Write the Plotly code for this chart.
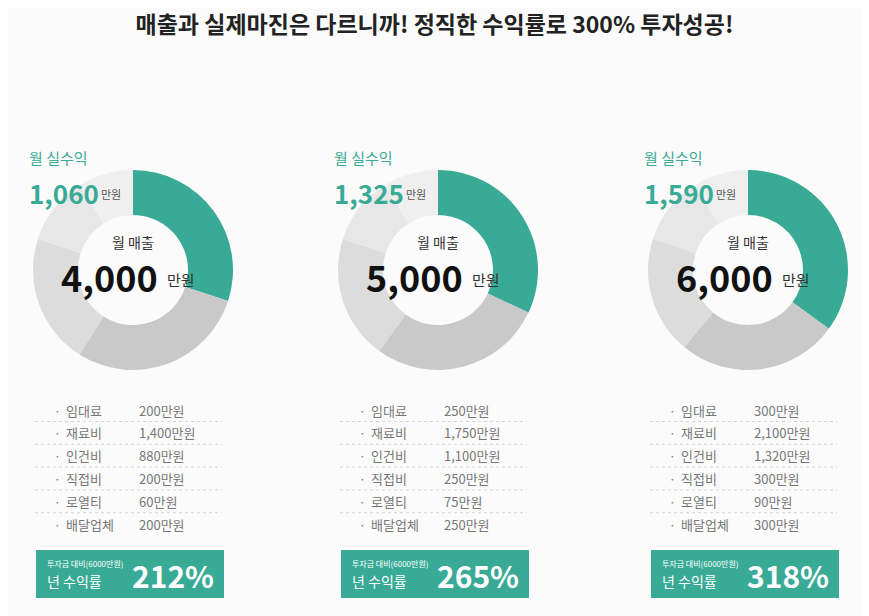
import plotly.graph_objects as go

W, H = 869, 616

revenue = ["4,000", "5,000", "6,000"]
net_profit = ["1,060", "1,325", "1,590"]
annual_return = ["212%", "265%", "318%"]
cost_items = ["임대료", "재료비", "인건비", "직접비", "로열티", "배달업체"]
cost_values = [
    ["200만원", "1,400만원", "880만원", "200만원", "60만원", "200만원"],
    ["250만원", "1,750만원", "1,100만원", "250만원", "75만원", "250만원"],
    ["300만원", "2,100만원", "1,320만원", "300만원", "90만원", "300만원"],
]
# slice shares read from the donuts (profit first, then grey parts)
slice_shares = [
    [30, 29, 21, 11, 9],
    [32, 28, 20, 11, 9],
    [35, 26, 19, 11, 9],
]
slice_colors = ["#38aa95", "#c9c9c9", "#dcdcdc", "#e7e7e7", "#efefef"]

GREEN = "#38aa95"
FONT = "Noto Sans CJK KR"
SHIFT = 8  # page puts the figure 8px in from the corner


def px(x):
    return (x - SHIFT) / W


def py(y):
    return 1 - (y - SHIFT) / H


fig = go.Figure()
annotations = []
shapes = []


def text(x, y, s, size, color, anchor="left", bold=False):
    annotations.append(dict(
        x=px(x), y=py(y), xref="paper", yref="paper", text=f"<b>{s}</b>" if bold else s,
        showarrow=False, xanchor=anchor, yanchor="middle",
        font=dict(family=FONT, size=size, color=color)))


offsets = [0, 305, 615]
centers = [133, 438, 748]
R = 100
for i in range(3):
    cx, cy, dx = centers[i], 270, offsets[i]
    fig.add_trace(go.Pie(
        values=slice_shares[i], marker=dict(colors=slice_colors), hole=0.55,
        sort=False, direction="clockwise", rotation=0, textinfo="none",
        hoverinfo="skip", showlegend=False,
        domain=dict(x=[px(cx - R), px(cx + R)], y=[py(cy + R), py(cy - R)])))

    text(27 + dx, 157, "월 실수익", 15, GREEN)
    text(27 + dx, 192, net_profit[i], 26, GREEN, bold=True)
    text(99 + dx, 194, "만원", 11, "#555555")
    text(cx, 242, "월 매출", 14, "#333333", "center")
    text(cx + 27, 276, revenue[i], 36, "#111111", "right", bold=True)
    text(cx + 32, 280, "만원", 15, "#333333")

    for j, item in enumerate(cost_items):
        ry = 410 + j * 22.8
        text(52 + dx, ry, "·", 12, "#777777")
        text(64 + dx, ry, item, 13, "#777777")
        text(137 + dx, ry, cost_values[i][j], 13, "#777777")
        if j < 5:
            shapes.append(dict(type="line", xref="paper", yref="paper",
                               x0=px(35 + dx), x1=px(222 + dx),
                               y0=py(ry + 11.5), y1=py(ry + 11.5),
                               line=dict(color="#d5d5d5", width=1, dash="dot")))

    shapes.append(dict(type="rect", xref="paper", yref="paper",
                       x0=px(36 + dx), x1=px(224 + dx), y0=py(598), y1=py(550),
                       fillcolor=GREEN, line=dict(width=0)))
    text(45 + dx, 563, "투자금 대비(6000만원)", 8, "white")
    text(45 + dx, 581, "년 수익률", 14, "white")
    text(216 + dx, 575, annual_return[i], 30, "white", "right", bold=True)

fig.update_layout(
    width=W, height=H, margin=dict(l=0, r=0, t=0, b=0),
    paper_bgcolor="#fbfbfb", plot_bgcolor="#fbfbfb",
    title=dict(text="<b>매출과 실제마진은 다르니까! 정직한 수익률로 300% 투자성공!</b>",
               x=px(W / 2), y=py(25), xanchor="center", yanchor="middle",
               font=dict(family=FONT, size=23, color="#222222")),
    annotations=annotations, shapes=shapes,
)

fig.write_html("out.html")
